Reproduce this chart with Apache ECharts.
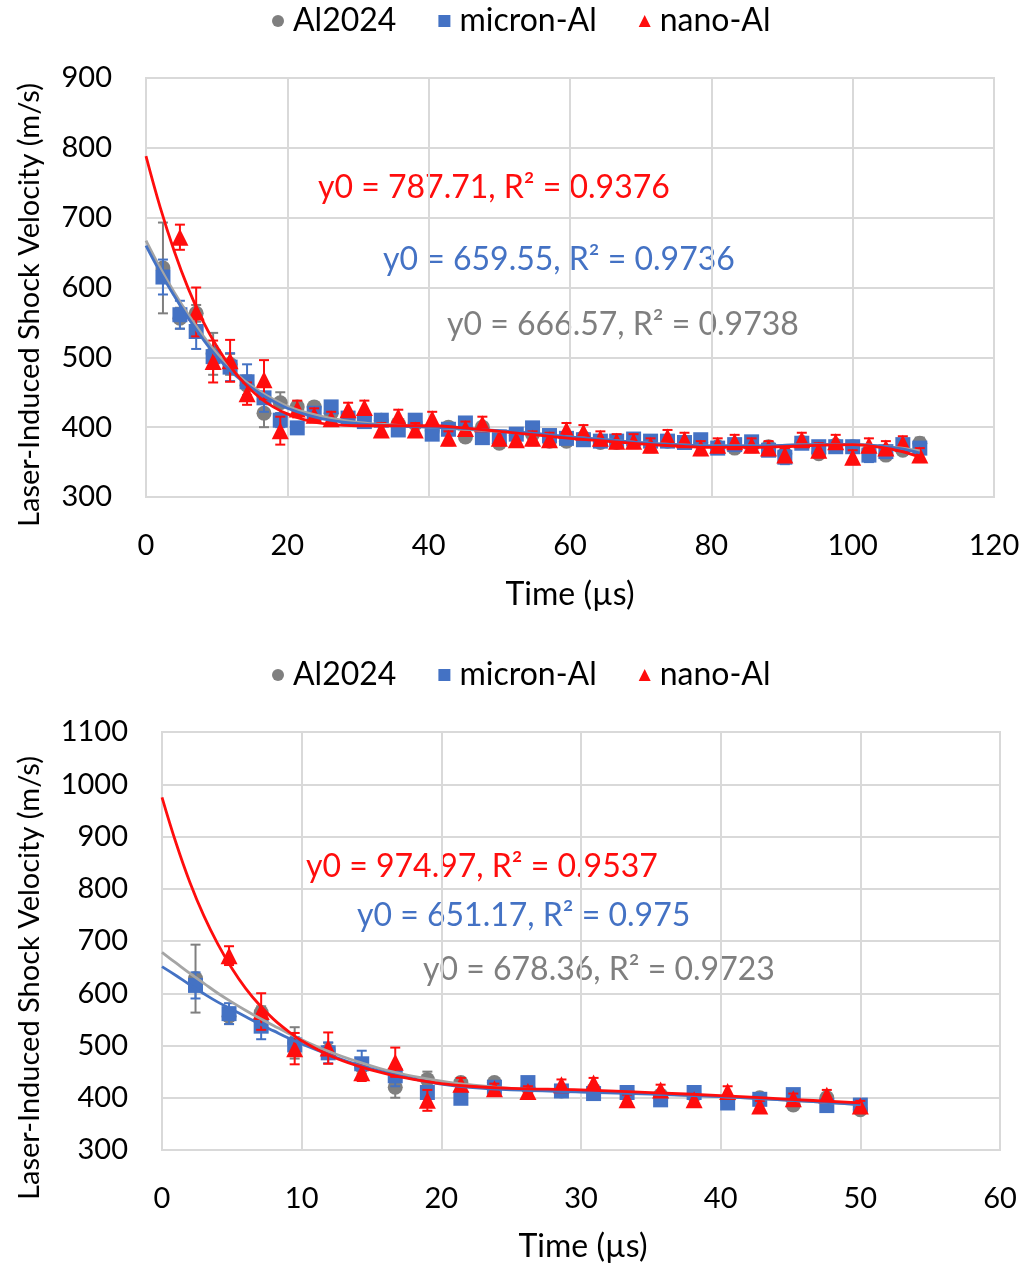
<!DOCTYPE html>
<html>
<head>
<meta charset="utf-8">
<script src="https://cdn.jsdelivr.net/npm/echarts@6/dist/echarts.min.js"></script>
<style>
html,body{margin:0;padding:0;background:#fff;}
#chart{width:1027px;height:1269px;}
</style>
</head>
<body>
<div id="chart"></div>
<script>
// ---- data ----
var timeUs = [2.4, 4.8, 7.1, 9.5, 11.9, 14.3, 16.7, 19.0, 21.4, 23.8, 26.2, 28.6, 30.9, 33.3, 35.7, 38.1, 40.5, 42.8, 45.2, 47.6, 50.0, 52.4, 54.7, 57.1, 59.5, 61.9, 64.3, 66.6, 69.0, 71.4, 73.8, 76.2, 78.5, 80.9, 83.3, 85.7, 88.1, 90.4, 92.8, 95.2, 97.6, 100.0, 102.3, 104.7, 107.1, 109.5];
var al2024 = [628,556,563,505,490,460,420,435,429,429, 420,413,415,410,405,405,395,400,386,400, 377,388,390,380,380,385,378,378,380,377, 380,378,378,372,370,376,372,362,378,362, 374,372,365,360,367,377];
var al2024Err = [65,15,12,30,15,14,20,15,8,6, 6,6,6,6,6,6,6,6,6,6, 6,6,6,6,6,6,6,6,6,6, 6,6,6,6,6,6,6,6,6,6, 6,6,6,6,6,8];
var micronAl = [615,561,537,501,486,465,442,410,399,420, 429,413,408,410,396,410,390,397,406,385, 386,390,399,388,384,382,380,380,383,380, 380,378,382,370,375,379,367,357,377,372, 372,372,360,365,375,370];
var micronErr = [25,20,25,15,20,25,20,10,8,8, 8,8,8,8,8,8,8,8,8,8, 8,8,8,8,8,8,8,8,8,8, 8,8,8,8,8,8,8,10,8,8, 8,8,10,8,8,8];
var nanoAl = [null,672,565,494,495,448,468,395,426,417, 412,425,428,396,415,396,412,384,398,405, 384,382,384,382,396,393,384,380,380,374, 386,382,370,374,379,374,370,360,382,367, 379,357,374,370,377,360];
var nanoErr = [0,18,35,30,30,16,28,20,12,10, 10,10,10,10,10,10,10,10,10,10, 10,10,10,10,10,10,10,10,10,10, 10,10,10,10,10,10,10,10,10,10, 10,10,10,10,10,10];

// trendline curves
var trendTopX = [0,2,4,6,8,10,12,14,16,18,20,23,26,30,35,40,45,50,55,60,65,70,75,80,85,90,95,100,104,107,109.5];
var trendTopNano = [788,715,652,598,553,516,486,462,443,429,419,409,404,402,402,402,399,394,389,384,380,376,373,371,371,372,374,375,371,365,357];
var trendTopMicron = [660,622,588,556,527,501,480,463,449,437,427,417,410,405,402,400,398,395,391,386,382,378,375,373,373,374,375,375,373,369,363];
var trendTopAl = [667,628,593,561,532,506,484,466,452,440,430,420,413,407,403,400,397,394,390,386,382,378,375,373,373,374,375,375,373,370,366];

var trendBotX = [0,1,2,3,4,5,6,7,8,9,10,12,14,16,18,20,22,25,30,35,40,45,50];
var trendBotNano = [975,888,812,748,694,648,609,577,550,528,509,481,461,446,435,427,422,418,415,410,404,397,390];
var trendBotMicron = [651,634,616,599,583,569,555,541,528,515,503,482,463,448,436,426,420,415,411,407,402,395,387];
var trendBotAl = [678,658,638,619,600,583,567,552,538,524,511,488,469,453,441,432,425,418,413,408,402,395,387];

var seriesNames = ['Al2024', 'micron-Al', 'nano-Al'];
var eqTop = ['y0 = 666.57, R\u00B2 = 0.9738', 'y0 = 659.55, R\u00B2 = 0.9736', 'y0 = 787.71, R\u00B2 = 0.9376'];
var eqBot = ['y0 = 678.36, R\u00B2 = 0.9723', 'y0 = 651.17, R\u00B2 = 0.975', 'y0 = 974.97, R\u00B2 = 0.9537'];
var xTopMax = 120, xBotMax = 60, bottomLimit = 50;

// ---- styling ----
var FONT = 'Lato';
var GRAY = '#7f7f7f', GRAYLINE = '#a5a5a5', BLUE = '#4472c4', RED = '#ff0d0d';
var colors = [GRAY, BLUE, RED];
var lineColors = [GRAYLINE, BLUE, RED];
var symbols = ['circle', 'rect', 'triangle'];
var values = [al2024, micronAl, nanoAl];
var errs = [al2024Err, micronErr, nanoErr];

function pts(vals, maxX) {
  var out = [];
  for (var i = 0; i < timeUs.length; i++) {
    if (vals[i] == null || timeUs[i] > maxX + 0.01) continue;
    out.push([timeUs[i], vals[i]]);
  }
  return out;
}
function errPts(vals, e, maxX) {
  var out = [];
  for (var i = 0; i < timeUs.length; i++) {
    if (vals[i] == null || timeUs[i] > maxX + 0.01) continue;
    out.push([timeUs[i], vals[i] - e[i], vals[i] + e[i]]);
  }
  return out;
}
function zip(xs, ys) { return xs.map(function (x, i) { return [x, ys[i]]; }); }

function errRender(color) {
  return function (params, api) {
    var x = api.value(0);
    var lo = api.coord([x, api.value(1)]);
    var hi = api.coord([x, api.value(2)]);
    var w = 5;
    var st = { stroke: color, lineWidth: 2 };
    return {
      type: 'group',
      children: [
        { type: 'line', shape: { x1: lo[0], y1: lo[1], x2: hi[0], y2: hi[1] }, style: st },
        { type: 'line', shape: { x1: lo[0] - w, y1: lo[1], x2: lo[0] + w, y2: lo[1] }, style: st },
        { type: 'line', shape: { x1: hi[0] - w, y1: hi[1], x2: hi[0] + w, y2: hi[1] }, style: st }
      ]
    };
  };
}

var series = [];
[0, 1].forEach(function (g) {
  var maxX = g === 0 ? 200 : bottomLimit;
  for (var k = 0; k < 3; k++) {
    series.push({
      type: 'custom', name: seriesNames[k] + ' err' + g, xAxisIndex: g, yAxisIndex: g,
      renderItem: errRender(colors[k]), data: errPts(values[k], errs[k], maxX), z: 2 + k, silent: true
    });
    series.push({
      type: 'scatter', name: seriesNames[k], xAxisIndex: g, yAxisIndex: g,
      symbol: symbols[k], symbolSize: k === 2 ? 17 : 15,
      itemStyle: { color: colors[k], opacity: 1 }, data: pts(values[k], maxX), z: 2 + k
    });
  }
  var tx = g === 0 ? trendTopX : trendBotX;
  var tr = g === 0 ? [trendTopAl, trendTopMicron, trendTopNano] : [trendBotAl, trendBotMicron, trendBotNano];
  for (var k2 = 0; k2 < 3; k2++) {
    series.push({
      type: 'line', name: seriesNames[k2] + ' fit' + g, xAxisIndex: g, yAxisIndex: g,
      smooth: 0.4, showSymbol: false, symbol: 'none',
      lineStyle: { color: lineColors[k2], width: 2.8 }, data: zip(tx, tr[k2]), z: 10 + k2, silent: true
    });
  }
});

function xAxisCfg(g, max) {
  return {
    type: 'value', gridIndex: g, min: 0, max: max, interval: 20 * (g === 0 ? 1 : 0.5),
    axisLine: { show: true, lineStyle: { color: '#d9d9d9', width: 2 } },
    axisTick: { show: false },
    axisLabel: { color: '#000', fontSize: 29, fontFamily: FONT, margin: 34, formatter: function (v) { return String(v); } },
    splitLine: { show: true, lineStyle: { color: '#d9d9d9', width: 2 } }
  };
}
function yAxisCfg(g, min, max) {
  return {
    type: 'value', gridIndex: g, min: min, max: max, interval: 100,
    axisLine: { show: false }, axisTick: { show: false },
    axisLabel: { color: '#000', fontSize: 29, fontFamily: FONT, margin: 34, formatter: function (v) { return String(v); } },
    splitLine: { show: true, lineStyle: { color: '#d9d9d9', width: 2 } }
  };
}
function legendCfg(top) {
  return {
    top: top, left: 267, itemGap: 42, itemWidth: 12, itemHeight: 12,
    textStyle: { fontSize: 32, fontFamily: FONT, color: '#000', padding: [0, 0, 0, 4] },
    data: [
      { name: 'Al2024', icon: 'circle' },
      { name: 'micron-Al', icon: 'rect' },
      { name: 'nano-Al', icon: 'triangle' }
    ],
    selectedMode: false
  };
}
function txt(x, y, s, color, rot, align, size) {
  return {
    type: 'text', x: x, y: y, rotation: rot || 0,
    style: { text: s, fill: color, fontSize: size || 32, fontFamily: FONT, textAlign: align || 'left', textVerticalAlign: 'middle' }
  };
}

var option = {
  backgroundColor: '#fff',
  animation: false,
  textStyle: { fontFamily: FONT },
  legend: [legendCfg(0), legendCfg(654)],
  grid: [
    { left: 146, top: 78, width: 848, height: 419, show: true, borderColor: '#d9d9d9', borderWidth: 2 },
    { left: 162, top: 732, width: 838, height: 418, show: true, borderColor: '#d9d9d9', borderWidth: 2 }
  ],
  xAxis: [xAxisCfg(0, xTopMax), xAxisCfg(1, xBotMax)],
  yAxis: [yAxisCfg(0, 300, 900), yAxisCfg(1, 300, 1100)],
  graphic: [
    txt(30, 305, 'Laser-Induced Shock Velocity (m/s)', '#000', Math.PI / 2, 'center', 29),
    txt(30, 978, 'Laser-Induced Shock Velocity (m/s)', '#000', Math.PI / 2, 'center', 29),
    txt(570, 595, 'Time (\u00B5s)', '#000', 0, 'center', 32),
    txt(583, 1247, 'Time (\u00B5s)', '#000', 0, 'center', 32),
    txt(318, 188, eqTop[2], RED),
    txt(383, 260, eqTop[1], BLUE),
    txt(447, 325, eqTop[0], GRAY),
    txt(306, 867, eqBot[2], RED),
    txt(357, 916, eqBot[1], BLUE),
    txt(423, 970, eqBot[0], GRAY)
  ],
  series: series
};
var chart = echarts.init(document.getElementById('chart'), null, { renderer: 'canvas' });
chart.setOption(option);
</script>
</body>
</html>
